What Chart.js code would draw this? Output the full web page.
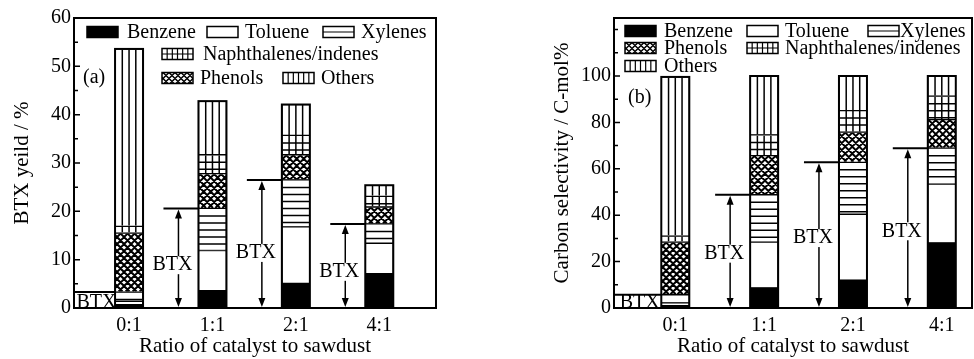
<!DOCTYPE html>
<html>
<head>
<meta charset="utf-8">
<script src="https://cdn.jsdelivr.net/npm/chart.js@4/dist/chart.umd.min.js"></script>
<style>
html, body { margin: 0; padding: 0; background: #fff; }
#wrap { position: relative; width: 974px; height: 359px; overflow: hidden; }
canvas { position: absolute; top: 0; }
#chartA { left: 0; }
#chartB { left: 490px; }
</style>
</head>
<body>
<div id="wrap">
  <canvas id="chartA" width="487" height="359"></canvas>
  <canvas id="chartB" width="484" height="359"></canvas>
</div>
<script>
const categories = ['0:1', '1:1', '2:1', '4:1'];

// (a) BTX yield / %, segment heights from bottom to top
const benzeneA = [0.7, 3.6, 5.1, 7.1];
const tolueneA = [0.7, 8.3, 11.7, 6.3];
const xylenesA = [1.9, 8.7, 9.7, 4.0];
const phenolsA = [12.2, 7.2, 5.2, 3.5];
const naphA = [1.4, 3.9, 4.0, 2.2];
const othersA = [36.7, 11.1, 6.4, 2.3];
const yTicksA = [0, 10, 20, 30, 40, 50, 60];

// (b) carbon selectivity / C-mol%
const benzeneB = [1.0, 8.7, 12.0, 28.1];
const tolueneB = [1.2, 19.7, 28.4, 25.3];
const xylenesB = [3.5, 20.4, 22.4, 15.5];
const phenolsB = [22.7, 16.9, 13.0, 12.3];
const naphB = [2.6, 8.9, 9.3, 10.1];
const othersB = [68.6, 25.4, 14.9, 8.7];
const yTicksB = [0, 20, 40, 60, 80, 100];

const seriesNames = ['Benzene', 'Toluene', 'Xylenes', 'Phenols', 'Naphthalenes/indenes', 'Others'];
const patterns = ['solid', 'none', 'hlines', 'cross', 'grid', 'vlines'];

const FAMILY = "'Liberation Serif', 'Times New Roman', serif";
const FONT = { family: FAMILY, size: 20 };
const TITLE_FONT = { family: FAMILY, size: 21 };

function drawPattern(ctx, kind, x, y, w, h, small) {
    if (kind === 'solid') {
        ctx.fillStyle = '#000';
        ctx.fillRect(x, y, w, h);
        return;
    }
    if (kind === 'none') return;
    ctx.save();
    ctx.beginPath();
    ctx.rect(x, y, w, h);
    ctx.clip();
    ctx.strokeStyle = '#000';
    ctx.lineWidth = small ? 1.2 : 1.5;
    const vStep = small ? w / 6 : w / 4;
    const hStep = small ? h / 2 : 7;
    ctx.beginPath();
    if (kind === 'vlines' || kind === 'grid') {
        for (let xx = x + vStep; xx < x + w - 1; xx += vStep) {
            ctx.moveTo(xx, y);
            ctx.lineTo(xx, y + h);
        }
    }
    if (kind === 'hlines' || kind === 'grid') {
        for (let yy = y + hStep; yy < y + h - 1; yy += hStep) {
            ctx.moveTo(x, yy);
            ctx.lineTo(x + w, yy);
        }
    }
    if (kind === 'cross') {
        const s = small ? 6 : 7;
        ctx.lineWidth = small ? 1.5 : 2;
        for (let c = -h - s; c < w + h + s; c += s) {
            ctx.moveTo(x + c, y);
            ctx.lineTo(x + c + h, y + h);
            ctx.moveTo(x + c, y);
            ctx.lineTo(x + c - h, y + h);
        }
    }
    ctx.stroke();
    ctx.restore();
}

const decorPlugin = {
    id: 'decor',
    afterDatasetsDraw(chart, args, opts) {
        const ctx = chart.ctx;
        const area = chart.chartArea;
        const yScale = chart.scales.y;

        // fill patterns inside the bars
        chart.data.datasets.forEach((ds, di) => {
            const meta = chart.getDatasetMeta(di);
            meta.data.forEach((bar) => {
                const p = bar.getProps(['x', 'y', 'base', 'width'], true);
                const l = p.x - p.width / 2;
                const t = Math.min(p.y, p.base);
                const b = Math.max(p.y, p.base);
                drawPattern(ctx, patterns[di], l + 0.5, t + 0.5, p.width - 1, b - t - 1, false);
            });
        });

        // outline of each stacked bar
        const first = chart.getDatasetMeta(0).data;
        const last = chart.getDatasetMeta(chart.data.datasets.length - 1).data;
        ctx.save();
        ctx.strokeStyle = '#000';
        ctx.lineWidth = 2;
        first.forEach((bar, i) => {
            const p = bar.getProps(['x', 'base', 'width'], true);
            const top = last[i].getProps(['y'], true).y;
            ctx.strokeRect(p.x - p.width / 2, top, p.width, p.base - top);
        });

        // BTX markers
        ctx.font = FONT.size + 'px ' + FAMILY;
        ctx.fillStyle = '#000';
        ctx.textAlign = 'center';
        ctx.textBaseline = 'middle';
        first.forEach((bar, i) => {
            const p = bar.getProps(['x', 'width'], true);
            const left = p.x - p.width / 2;
            const btx = [0, 1, 2].reduce((s, d) => s + chart.data.datasets[d].data[i].y, 0);
            const yPix = yScale.getPixelForValue(btx);
            const bottom = area.bottom;
            ctx.lineWidth = 2;
            if (i === 0) {
                ctx.beginPath();
                ctx.moveTo(area.left, yPix);
                ctx.lineTo(left, yPix);
                ctx.stroke();
                ctx.fillText('BTX', (area.left + left) / 2 + 2, bottom - 5);
                return;
            }
            ctx.beginPath();
            ctx.moveTo(left - 35, yPix);
            ctx.lineTo(left, yPix);
            ctx.stroke();
            const ax = left - 20;
            ctx.lineWidth = 1.5;
            ctx.beginPath();
            ctx.moveTo(ax, bottom - 6);
            ctx.lineTo(ax, yPix + 6);
            ctx.stroke();
            ctx.beginPath();
            ctx.moveTo(ax, yPix + 1);
            ctx.lineTo(ax - 3.5, yPix + 10);
            ctx.lineTo(ax + 3.5, yPix + 10);
            ctx.closePath();
            ctx.moveTo(ax, bottom - 1);
            ctx.lineTo(ax - 3.5, bottom - 10);
            ctx.lineTo(ax + 3.5, bottom - 10);
            ctx.closePath();
            ctx.fill();
            const ty = bottom - opts.btxFrac * (bottom - yPix);
            const tx = ax - 6;
            const tw = ctx.measureText('BTX').width;
            ctx.fillStyle = '#fff';
            ctx.fillRect(tx - tw / 2 - 1, ty - 9, tw + 2, 18);
            ctx.fillStyle = '#000';
            ctx.fillText('BTX', tx, ty);
        });
        ctx.restore();
    },
    afterDraw(chart, args, opts) {
        const ctx = chart.ctx;
        const area = chart.chartArea;
        const yScale = chart.scales.y;
        ctx.save();
        // frame
        ctx.strokeStyle = '#000';
        ctx.lineWidth = 2;
        ctx.strokeRect(area.left, area.top, area.right - area.left, area.bottom - area.top);
        // inward ticks on the left axis
        ctx.lineWidth = 1.5;
        ctx.beginPath();
        for (let v = 0; v <= yScale.max; v += opts.minorStep) {
            const yy = yScale.getPixelForValue(v);
            const major = opts.majorTicks.includes(v);
            ctx.moveTo(area.left, yy);
            ctx.lineTo(area.left + (major ? 6 : 4), yy);
        }
        ctx.stroke();

        // legend
        ctx.font = FONT.size + 'px ' + FAMILY;
        ctx.textAlign = 'left';
        ctx.textBaseline = 'middle';
        opts.legend.forEach((item) => {
            const bx = area.left + item.dx;
            const by = area.top + item.dy;
            const bw = 31, bh = 11;
            ctx.fillStyle = '#fff';
            ctx.fillRect(bx, by - bh / 2, bw, bh);
            drawPattern(ctx, patterns[item.s], bx, by - bh / 2, bw, bh, true);
            ctx.strokeStyle = '#000';
            ctx.lineWidth = 1.5;
            ctx.strokeRect(bx, by - bh / 2, bw, bh);
            ctx.fillStyle = '#000';
            ctx.fillText(seriesNames[item.s], bx + bw + (item.gap || 7), by + 1);
        });

        // panel label
        ctx.fillText(opts.panel.text, area.left + opts.panel.dx, area.top + opts.panel.dy);
        ctx.restore();
    },
};

function makeChart(id, values, cfg) {
    const datasets = values.map((vals, di) => ({
        label: seriesNames[di],
        data: vals.map((v, i) => ({ x: i, y: v })),
        backgroundColor: patterns[di] === 'solid' ? '#000' : '#fff',
        borderColor: '#000',
        borderWidth: 1,
        borderSkipped: false,
        barThickness: 28,
    }));
    return new Chart(document.getElementById(id), {
        type: 'bar',
        data: { datasets: datasets },
        plugins: [decorPlugin],
        options: {
            responsive: false,
            animation: false,
            events: [],
            layout: { padding: cfg.padding },
            plugins: {
                legend: { display: false },
                tooltip: { enabled: false },
                decor: {
                    minorStep: cfg.minorStep,
                    majorTicks: cfg.yTicks,
                    legend: cfg.legend,
                    panel: cfg.panel,
                    btxFrac: cfg.btxFrac,
                },
            },
            scales: {
                x: {
                    type: 'linear',
                    stacked: true,
                    offset: false,
                    min: cfg.xMin,
                    max: cfg.xMax,
                    grid: { display: false, drawTicks: false },
                    border: { display: false },
                    afterBuildTicks: (s) => { s.ticks = categories.map((c, i) => ({ value: i })); },
                    ticks: {
                        callback: (v) => categories[v],
                        font: FONT,
                        color: '#000',
                        padding: 6,
                        maxRotation: 0,
                        autoSkip: false,
                    },
                    title: {
                        display: true,
                        text: 'Ratio of catalyst to sawdust',
                        font: TITLE_FONT,
                        color: '#000',
                        padding: { top: 0, bottom: 0 },
                    },
                    afterFit: (s) => { s.height = 51; },
                },
                y: {
                    stacked: true,
                    min: 0,
                    max: cfg.yMax,
                    grid: { display: false, drawTicks: false },
                    border: { display: false },
                    afterBuildTicks: (s) => { s.ticks = cfg.yTicks.map((v) => ({ value: v })); },
                    ticks: { font: FONT, color: '#000', padding: 3 },
                    title: {
                        display: true,
                        text: cfg.yTitle,
                        font: TITLE_FONT,
                        color: '#000',
                        padding: { top: 10, bottom: 0 },
                    },
                    afterFit: (s) => { s.width = 74; },
                },
            },
        },
    });
}

makeChart('chartA', [benzeneA, tolueneA, xylenesA, phenolsA, naphA, othersA], {
    padding: { left: 0, right: 51, top: 18, bottom: 0 },
    xMin: -0.66,
    xMax: 3.68,
    yMax: 60,
    yTicks: yTicksA,
    minorStep: 5,
    yTitle: 'BTX yeild / %',
    btxFrac: 0.43,
    panel: { text: '(a)', dx: 9, dy: 60 },
    legend: [
        { s: 0, dx: 13, dy: 14, gap: 9 },
        { s: 1, dx: 133, dy: 14 },
        { s: 2, dx: 249, dy: 14 },
        { s: 4, dx: 88, dy: 36, gap: 10 },
        { s: 3, dx: 88, dy: 60 },
        { s: 5, dx: 209, dy: 60 },
    ],
});

makeChart('chartB', [benzeneB, tolueneB, xylenesB, phenolsB, naphB, othersB], {
    padding: { left: 50, right: 2, top: 18, bottom: 0 },
    xMin: -0.69,
    xMax: 3.34,
    yMax: 125,
    yTicks: yTicksB,
    minorStep: 10,
    yTitle: 'Carbon selectivity / C-mol%',
    btxFrac: 0.48,
    panel: { text: '(b)', dx: 14, dy: 80 },
    legend: [
        { s: 0, dx: 11, dy: 13, gap: 8 },
        { s: 1, dx: 133, dy: 13 },
        { s: 2, dx: 254, dy: 13, gap: 1 },
        { s: 3, dx: 11, dy: 30, gap: 8 },
        { s: 4, dx: 133, dy: 30 },
        { s: 5, dx: 11, dy: 48, gap: 8 },
    ],
});
</script>
</body>
</html>
